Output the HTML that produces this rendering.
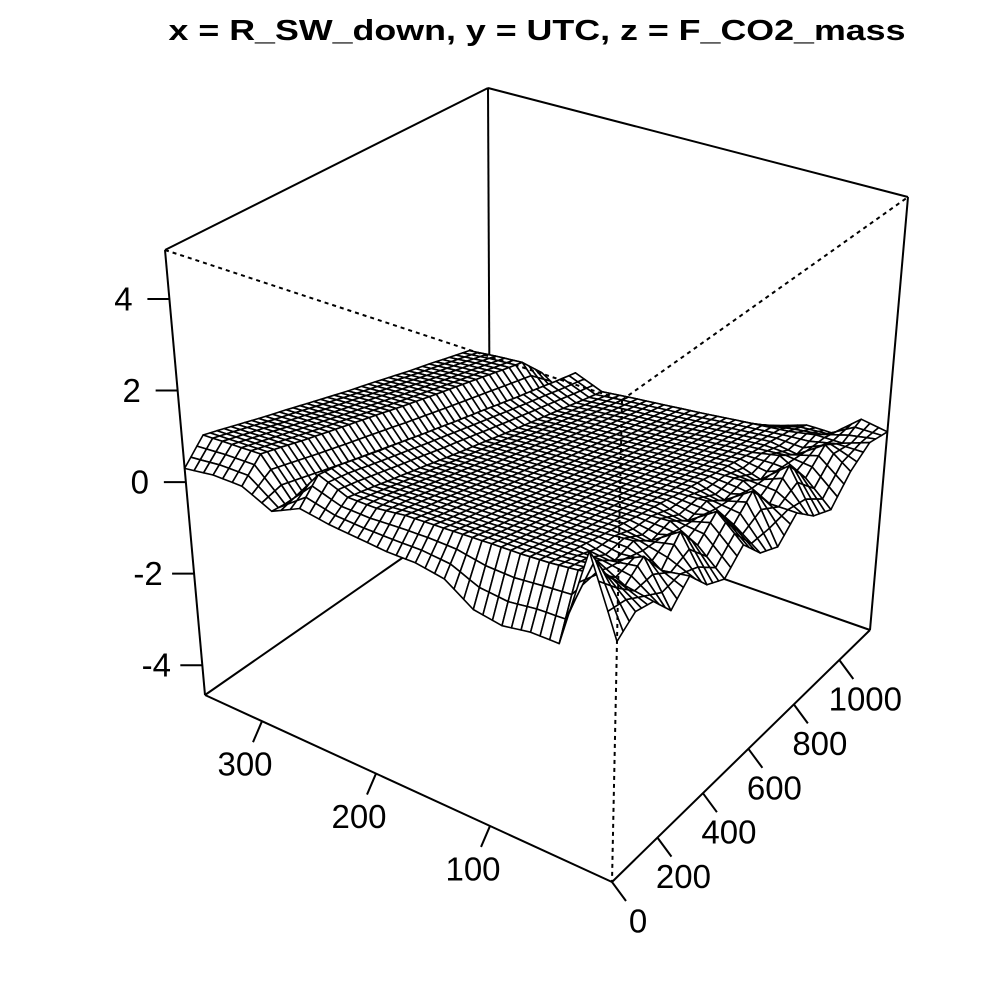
<!DOCTYPE html>
<html><head><meta charset="utf-8"><style>html,body{margin:0;padding:0;background:#fff}svg{display:block}</style></head>
<body>
<svg id="plot" width="1000" height="1000" viewBox="0 0 1000 1000" xmlns="http://www.w3.org/2000/svg" font-family="Liberation Sans, sans-serif">
<text x="537" y="40" text-anchor="middle" font-size="29" font-weight="bold" textLength="737" lengthAdjust="spacingAndGlyphs">x = R_SW_down, y = UTC, z = F_CO2_mass</text>
<g id="back"></g><g id="surf"></g><g id="front"></g><g id="axes"></g>
</svg>
<script>
const zTicks=[-4,-2,0,2,4];
const xTicks=[100,200,300];
const yTicks=[0,200,400,600,800,1000];
const zRows=[
[0.2,0.5,0.4,-0.1,0.3,-0.2,-0.4,0.0,-0.5,-0.7,-0.3,-0.7,-0.9,-0.4,-0.1,-0.2],
[1.8,1.0,0.5,0.8,0.2,0.7,0.1,0.5,-0.1,0.3,-0.3,0.2,-0.4,0.0,-0.3,-0.1],
[-0.3,0.9,0.8,0.5,0.6,0.3,0.4,0.1,0.2,-0.1,0.0,-0.3,-0.1,-0.4,-0.3,-0.6],
[-0.3,0.83,0.73,0.64,0.54,0.45,0.35,0.26,0.16,0.07,-0.03,-0.12,-0.22,-0.31,-0.41,-0.6],
[-0.4,0.79,0.70,0.60,0.50,0.41,0.31,0.21,0.11,0.02,-0.08,-0.18,-0.27,-0.37,-0.47,-0.8],
[-0.3,0.77,0.67,0.57,0.47,0.37,0.27,0.17,0.07,-0.03,-0.13,-0.23,-0.33,-0.43,-0.53,-1.0],
[0.1,0.74,0.63,0.53,0.43,0.32,0.22,0.12,0.02,-0.09,-0.19,-0.29,-0.40,-0.50,-0.60,-1.3],
[0.2,0.71,0.60,0.50,0.39,0.29,0.18,0.08,-0.03,-0.14,-0.24,-0.35,-0.45,-0.56,-0.66,-1.5],
[0.2,0.68,0.57,0.47,0.36,0.25,0.14,0.03,-0.07,-0.18,-0.29,-0.40,-0.50,-0.61,-0.72,-1.5],
[0.25,0.6,0.54,0.43,0.32,0.21,0.10,-0.01,-0.12,-0.23,-0.34,-0.45,-0.56,-0.67,-0.78,-1.5],
[0.3,0.6,0.50,0.39,0.28,0.17,0.05,-0.06,-0.17,-0.29,-0.40,-0.51,-0.62,-0.74,-0.85,-1.5],
[0.4,0.85,0.78,0.66,0.54,0.43,0.31,0.2,0.08,-0.03,-0.15,-0.27,-0.38,-0.5,-0.61,-1.3],
[0.1,0.06,-0.06,-0.18,-0.3,-0.42,-0.53,-0.65,-0.77,-0.89,-1.01,-1.13,-1.25,-1.37,-1.49,-1.7],
[0.4,0.83,0.71,0.58,0.46,0.34,0.22,0.10,-0.03,-0.15,-0.27,-0.39,-0.51,-0.64,-0.76,-1.3],
[0.4,0.80,0.68,0.56,0.43,0.31,0.18,0.06,-0.06,-0.19,-0.31,-0.44,-0.56,-0.68,-0.81,-1.4],
[0.3,0.77,0.65,0.52,0.39,0.27,0.14,0.01,-0.12,-0.24,-0.37,-0.50,-0.62,-0.75,-0.88,-1.5]
];
const NS='http://www.w3.org/2000/svg';
const C={'000':[612,882],'100':[205,695],'010':[870,630],'110':[490,497],'001':[622,400],'101':[165,250],'011':[908,197],'111':[488,88]};
function P(u,v,w){let x=0,y=0;for(const a of[0,1])for(const b of[0,1])for(const c of[0,1]){const k=(a?u:1-u)*(b?v:1-v)*(c?w:1-w);const p=C[''+a+b+c];x+=k*p[0];y+=k*p[1];}return[x,y];}
const zMin=-4.65,zMax=5.07,xMin=-7,xMax=350,yMax=1135;
const W=z=>(z-zMin)/(zMax-zMin), U=x=>(x-xMin)/(xMax-xMin), V=y=>y/yMax;
function line(g,a,b,dash,name){const l=document.createElementNS(NS,'line');l.setAttribute('x1',a[0]);l.setAttribute('y1',a[1]);l.setAttribute('x2',b[0]);l.setAttribute('y2',b[1]);l.setAttribute('stroke','#000');l.setAttribute('stroke-width','2');if(dash)l.setAttribute('stroke-dasharray','4,4');


document.getElementById(g).appendChild(l);}
function text(x,y,s,name){const t=document.createElementNS(NS,'text');t.setAttribute('x',x);t.setAttribute('y',y);t.setAttribute('text-anchor','middle');t.setAttribute('dominant-baseline','central');t.setAttribute('font-size','33');t.textContent=s;


document.getElementById('axes').appendChild(t);}
line('back',C['101'],C['111'],0,'box-edge');line('back',C['111'],C['011'],0,'box-edge');line('back',C['111'],C['110'],0,'box-edge');
line('back',C['100'],C['110'],0,'box-edge');line('back',C['110'],C['010'],0,'box-edge');
line('back',C['100'],C['101'],0,'box-edge');line('back',C['010'],C['011'],0,'box-edge');
line('back',C['100'],C['000'],0,'x-axis-line');line('back',C['000'],C['010'],0,'y-axis-line');
const nu=zRows.length,nv=zRows[0].length,S=3;
function Z(a,b){const i=Math.min(Math.floor(a),nu-2),j=Math.min(Math.floor(b),nv-2),fa=a-i,fb=b-j;
return zRows[i][j]*(1-fa)*(1-fb)+zRows[i+1][j]*fa*(1-fb)+zRows[i][j+1]*(1-fa)*fb+zRows[i+1][j+1]*fa*fb;}
const cells=[];const NU=(nu-1)*S,NV=(nv-1)*S;
for(let i=0;i<NU;i++)for(let j=0;j<NV;j++)cells.push([i,j]);
cells.sort((a,b)=>(b[0]/NU+b[1]/NV)-(a[0]/NU+a[1]/NV));
const sg=document.getElementById('surf');
for(const [i,j] of cells){const pts=[[i,j],[i+1,j],[i+1,j+1],[i,j+1]].map(([a,b])=>P(a/NU,b/NV,W(Z(a/S,b/S))));
const pg=document.createElementNS(NS,'polygon');pg.setAttribute('points',pts.map(p=>p[0].toFixed(1)+','+p[1].toFixed(1)).join(' '));pg.setAttribute('fill','#fff');pg.setAttribute('stroke','#000');pg.setAttribute('stroke-width','1.6');pg.setAttribute('stroke-linejoin','round');


sg.appendChild(pg);}
line('front',C['101'],C['001'],1,'box-edge-front');line('front',C['001'],C['011'],1,'box-edge-front');line('front',C['001'],C['000'],1,'box-edge-front');
for(const z of zTicks){const p=P(1,0,W(z));line('axes',p,[p[0]-22,p[1]],0,'z-tick');text(p[0]-46,p[1],String(z),'z-tick-label');}
for(const x of xTicks){const p=P(U(x),0,0);line('axes',p,[p[0]-9,p[1]+21],0,'x-tick');text(p[0]-17,p[1]+43,String(x),'x-tick-label');}
for(const y of yTicks){const p=P(0,V(y),0);line('axes',p,[p[0]+14,p[1]+19],0,'y-tick');text(p[0]+26,p[1]+39,String(y),'y-tick-label');}
</script>
</body></html>
